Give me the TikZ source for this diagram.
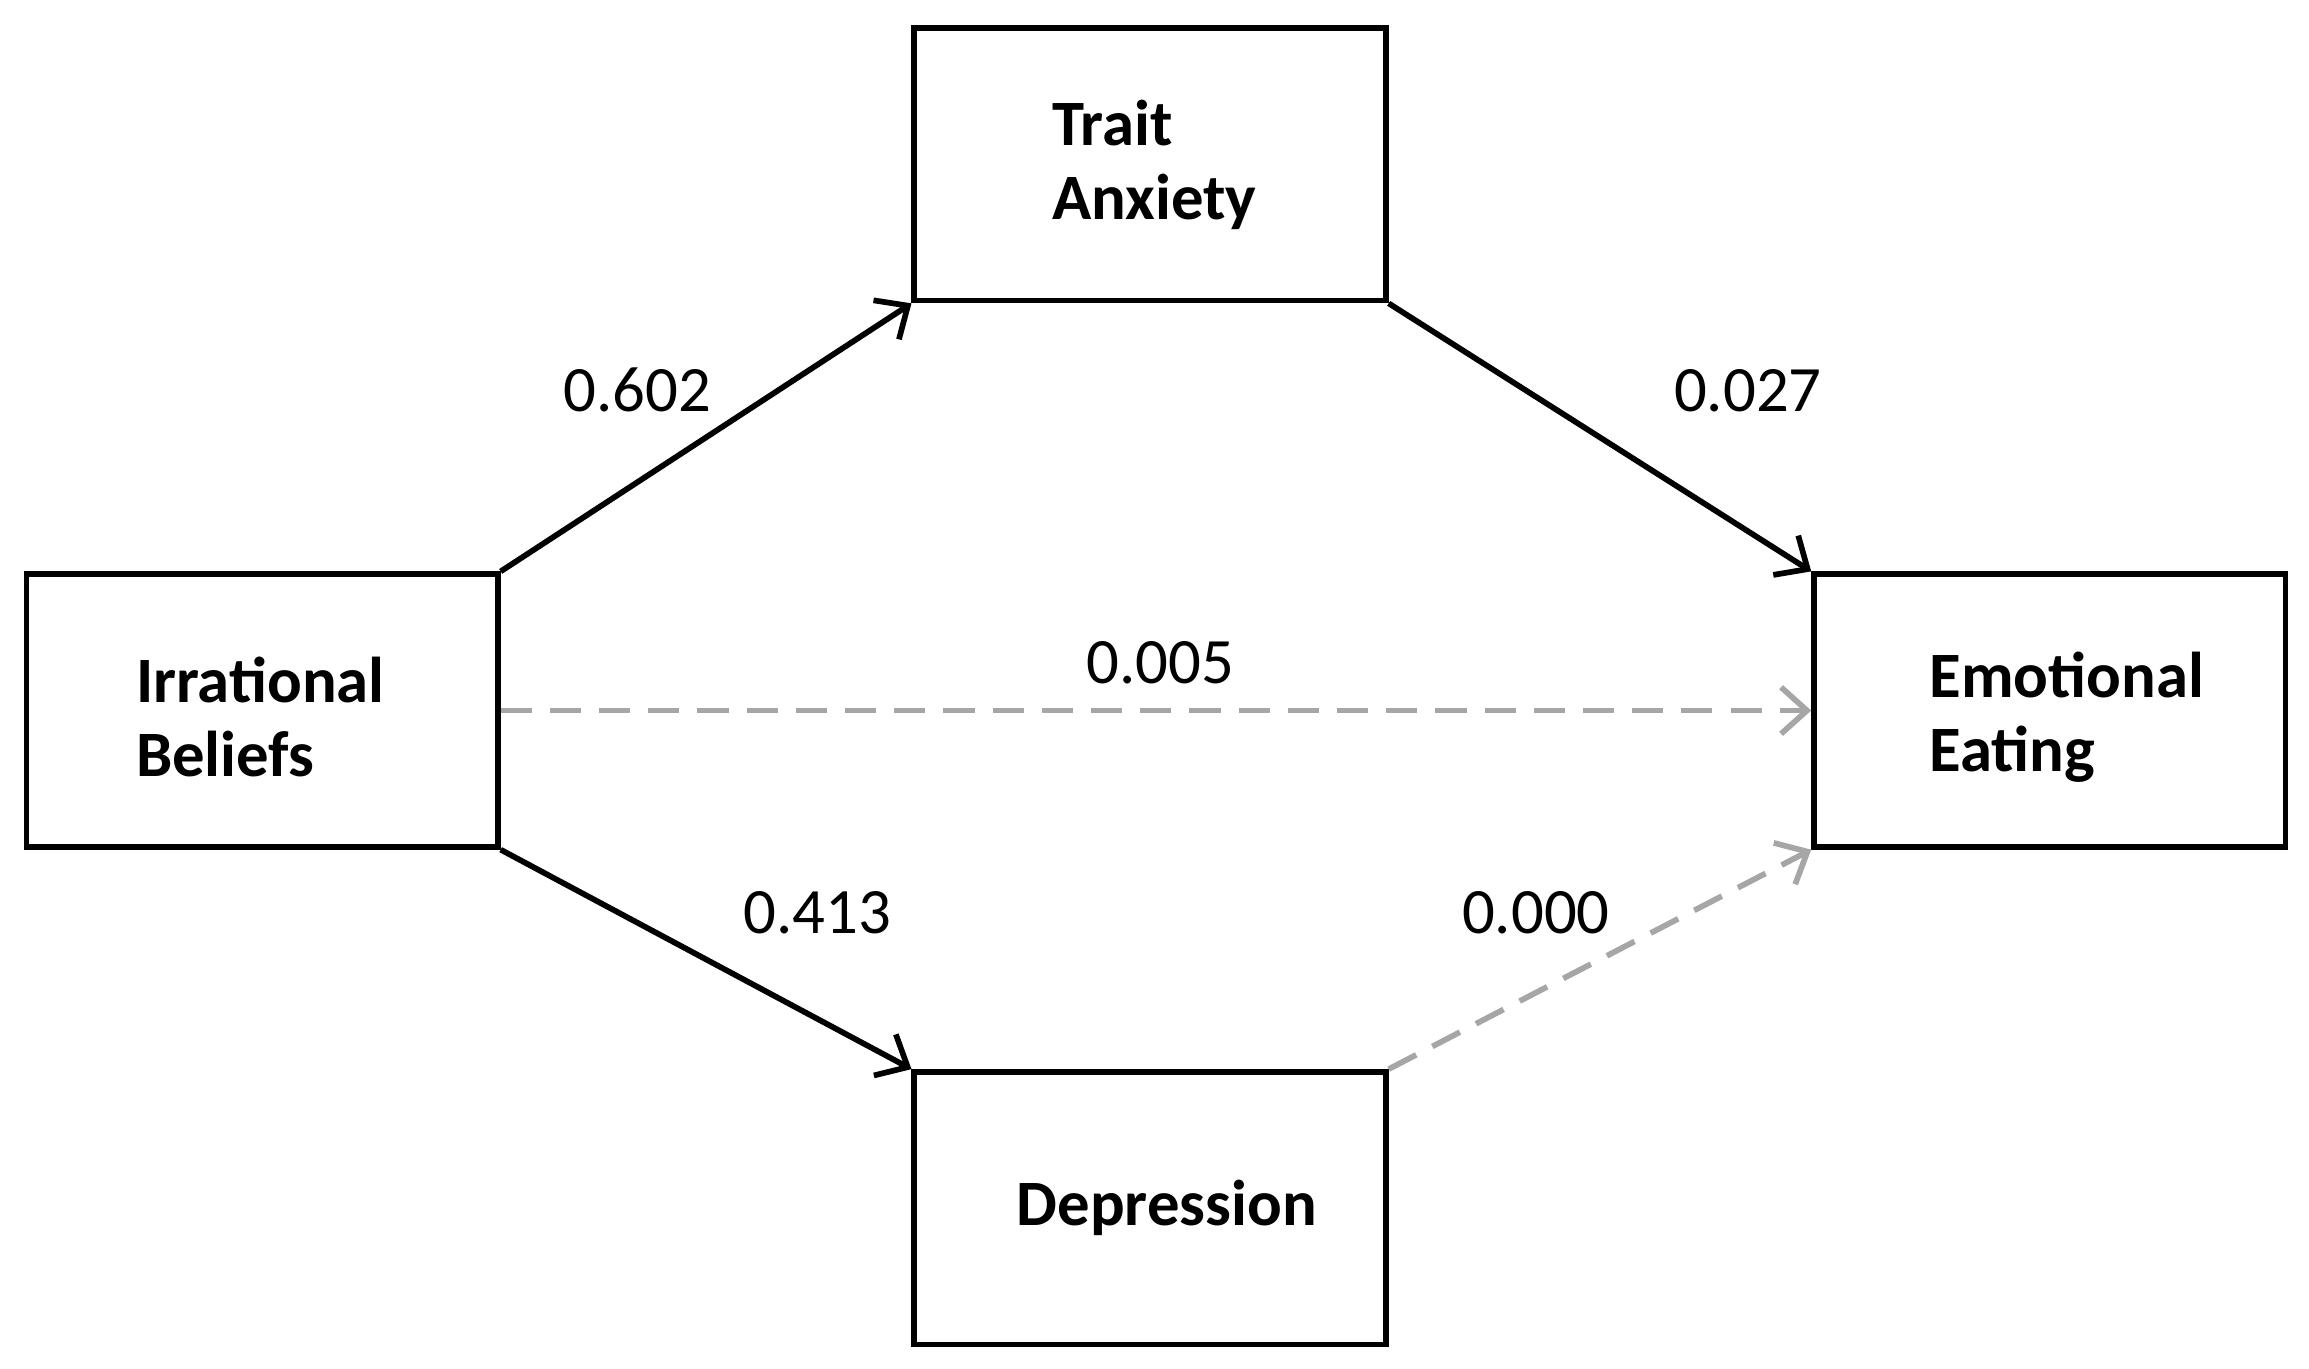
\documentclass[tikz,border=0pt]{standalone}
\usepackage{fontspec}
\setmainfont{Carlito}
\usetikzlibrary{arrows.meta}
\begin{document}
\begin{tikzpicture}[x=0.01cm,y=-0.01cm,
  box/.style={draw,line width=1.1pt,minimum width=3.2cm,minimum height=1.85cm,inner sep=0pt},
  lbl/.style={font=\fontsize{12.5}{14.2}\selectfont\bfseries,align=left,anchor=west},
  num/.style={font=\fontsize{12.5}{14.2}\selectfont},
  arr/.style={line width=1.1pt,-{Straight Barb[length=5pt,width=9pt,line width=1.1pt]}},
  garr/.style={arr,dashed,draw=black!35,dash pattern=on 6pt off 3.5pt}]
\useasboundingbox (0,0) rectangle (1568,929);
\node[box] (ib) at (178,482.5) {};
\node[box] (ta) at (781,111.5) {};
\node[box] (ee) at (1392,482.5) {};
\node[box] (dp) at (781,820.5) {};
\node[lbl] (ibt) at (80,487) {Irrational\\Beliefs};
\node[lbl] (tat) at (702,112) {Trait\\Anxiety};
\node[lbl] (eet) at (1298,487) {Emotional\\Eating};
\node[lbl] (dpt) at (678,820) {Depression};
\draw[arr] (ib.north east) -- (ta.south west);
\draw[arr] (ta.south east) -- (ee.north west);
\draw[garr] (ib.east) -- (ee.west);
\draw[arr] (ib.south east) -- (dp.north west);
\draw[garr] (dp.north east) -- (ee.south west);
\node[num] (n1) at (433,265) {0.602};
\node[num] (n2) at (1187,265) {0.027};
\node[num] (n3) at (788,450) {0.005};
\node[num] (n4) at (555,620) {0.413};
\node[num] (n5) at (1043,620) {0.000};
\end{tikzpicture}
\end{document}
